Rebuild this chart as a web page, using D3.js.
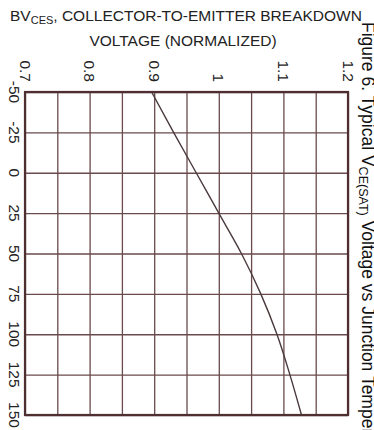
<!DOCTYPE html>
<html>
<head>
<meta charset="utf-8">
<script src="https://cdn.jsdelivr.net/npm/d3@7"></script>
<style>
  html, body { margin: 0; padding: 0; background: #fff; }
  svg { display: block; font-family: "Liberation Sans", Arial, sans-serif; }
</style>
</head>
<body>
<svg id="chart" width="374" height="430"></svg>
<script>
// Junction temperature (°C) and normalized breakdown voltage along the curve
const temperatures = [-50, -25, 0, 25, 50, 75, 100, 125, 150];
const bvNormalized = [0.896, 0.93, 0.965, 1.0, 1.035, 1.065, 1.09, 1.11, 1.128];

// Axis ticks and labels
const voltageTicks = [0.7, 0.8, 0.9, 1.0, 1.1, 1.2];
const voltageTickLabels = ["0.7", "0.8", "0.9", "1", "1.1", "1.2"];
const voltageGrid = [0.7, 0.75, 0.8, 0.85, 0.9, 0.95, 1.0, 1.05, 1.1, 1.15, 1.2];
const temperatureTicks = [-50, -25, 0, 25, 50, 75, 100, 125, 150];
const temperatureTickLabels = ["-50", "-25", "0", "25", "50", "75", "100", "125", "150"];

const svg = d3.select("#chart");
const plotLeft = 25, plotRight = 348, plotTop = 92, plotBottom = 415;

// Voltage runs left→right, temperature runs top→bottom (page turned on its side)
const x = d3.scaleLinear().domain([0.7, 1.2]).range([plotLeft, plotRight]);
const y = d3.scaleLinear().domain([-50, 150]).range([plotTop, plotBottom]);

const gridColor = "#6a4a4c";
const frameColor = "#4e2e30";

// Vertical grid lines (voltage)
svg.append("g")
  .attr("transform", `translate(0,${plotTop})`)
  .call(d3.axisBottom(x).tickValues(voltageGrid).tickSize(plotBottom - plotTop).tickFormat(""))
  .call(g => g.select(".domain").remove())
  .call(g => g.selectAll("line").attr("stroke", gridColor).attr("stroke-width", 1.3));

// Horizontal grid lines (temperature)
svg.append("g")
  .attr("transform", `translate(${plotLeft},0)`)
  .call(d3.axisRight(y).tickValues(temperatureTicks).tickSize(plotRight - plotLeft).tickFormat(""))
  .call(g => g.select(".domain").remove())
  .call(g => g.selectAll("line").attr("stroke", gridColor).attr("stroke-width", 1.3));

// Frame
svg.append("rect")
  .attr("x", plotLeft).attr("y", plotTop)
  .attr("width", plotRight - plotLeft).attr("height", plotBottom - plotTop)
  .attr("fill", "none").attr("stroke", frameColor).attr("stroke-width", 2.2);

// Voltage tick labels, rotated, above the frame
svg.append("g").selectAll("text")
  .data(voltageTicks)
  .join("text")
  .attr("transform", d => `translate(${x(d)},82) rotate(90)`)
  .attr("text-anchor", "end")
  .attr("dominant-baseline", "central")
  .attr("font-size", 15.5)
  .attr("fill", "#222")
  .text((d, i) => voltageTickLabels[i]);

// Temperature tick labels, rotated, left of the frame
svg.append("g").selectAll("text")
  .data(temperatureTicks)
  .join("text")
  .attr("transform", d => `translate(14,${y(d)}) rotate(90)`)
  .attr("text-anchor", "middle")
  .attr("dominant-baseline", "central")
  .attr("font-size", 15.5)
  .attr("fill", "#222")
  .text((d, i) => temperatureTickLabels[i]);

// Curve
const line = d3.line()
  .x(d => x(d[1]))
  .y(d => y(d[0]))
  .curve(d3.curveMonotoneY);

svg.append("path")
  .datum(temperatures.map((t, i) => [t, bvNormalized[i]]))
  .attr("d", line)
  .attr("fill", "none")
  .attr("stroke", "#4a3a3c")
  .attr("stroke-width", 1.4);

// Title
const title = svg.append("g").attr("fill", "#222").attr("font-size", 15.5);
const t1 = title.append("text").attr("x", 10).attr("y", 21);
t1.append("tspan").text("BV");
t1.append("tspan").attr("font-size", 11).attr("dy", 3).text("CES");
t1.append("tspan").attr("dy", -3).text(", COLLECTOR-TO-EMITTER BREAKDOWN");
title.append("text").attr("x", 183).attr("y", 45.5).attr("text-anchor", "middle")
  .text("VOLTAGE (NORMALIZED)");

// Figure caption running down the right edge, partly beyond the page
const cap = svg.append("text")
  .attr("transform", "translate(362,22) rotate(90)")
  .attr("font-size", 17.5)
  .attr("fill", "#111");
cap.append("tspan").text("Figure 6. Typical V");
cap.append("tspan").attr("font-size", 12.5).attr("dy", 3).text("CE(SAT)");
cap.append("tspan").attr("dy", -3).text(" Voltage vs Junction Temperature");
</script>
</body>
</html>
